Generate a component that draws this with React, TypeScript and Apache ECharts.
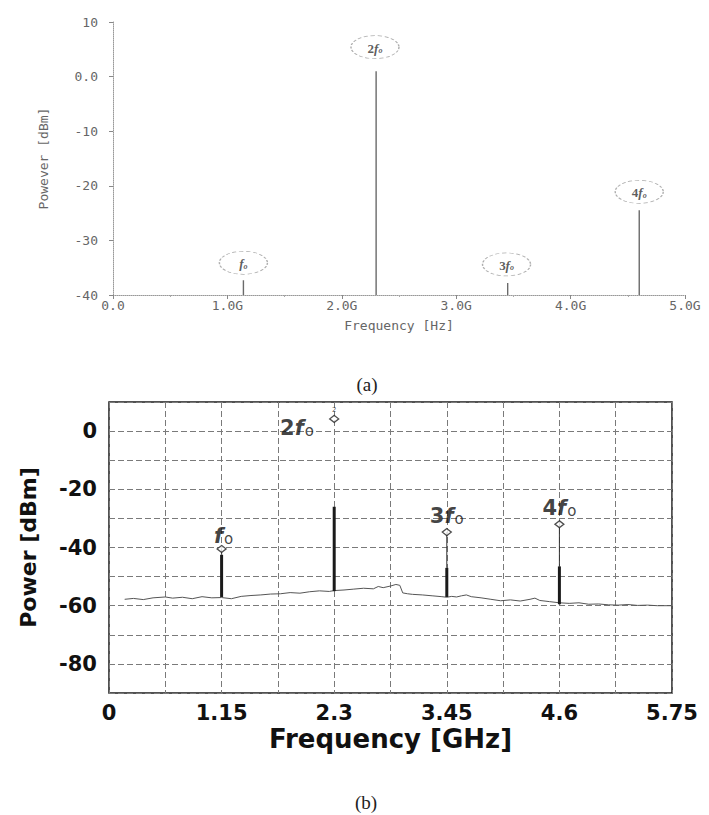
import React, { useEffect, useRef } from "react";
import * as echarts from "echarts";

// ---------- (a) simulated spectrum ----------
const topXTicks = [0, 1, 2, 3, 4, 5]; // GHz
const topYTicks = [-40, -30, -20, -10, 0, 10]; // dBm
const topSpikeFreq = [1.14, 2.3, 3.45, 4.6];
const topSpikePower = [-37.3, 1.0, -37.8, -24.5];
const topFloor = -40;
const topTagFreq = [1.14, 2.29, 3.44, 4.6];
const topTagPower = [-34.1, 5.4, -34.4, -21.1];
const harmonicOrder = ["", "2", "3", "4"];

// ---------- (b) measured spectrum ----------
const botXLabels = ["0", "1.15", "2.3", "3.45", "4.6", "5.75"];
const noiseFreq = [
  0.16, 0.25, 0.35, 0.45, 0.575, 0.65, 0.75, 0.85, 0.95, 1.05, 1.15, 1.25, 1.35,
  1.45, 1.55, 1.65, 1.75, 1.85, 1.95, 2.05, 2.15, 2.25, 2.3, 2.4, 2.5, 2.6, 2.7,
  2.75, 2.8, 2.88, 2.93, 2.97, 3.0, 3.05, 3.1, 3.2, 3.3, 3.4, 3.45, 3.5, 3.55,
  3.6, 3.65, 3.7, 3.8, 3.9, 4.0, 4.1, 4.2, 4.3, 4.35, 4.4, 4.5, 4.6, 4.7, 4.8,
  4.9, 5.0, 5.1, 5.2, 5.3, 5.4, 5.5, 5.6, 5.75,
];
const noisePower = [
  -57.8, -57.5, -57.9, -57.3, -57.0, -57.4, -57.1, -57.6, -56.9, -57.3, -57.2,
  -57.6, -56.8, -56.5, -56.3, -56.0, -55.9, -55.5, -55.7, -55.2, -54.9, -55.1,
  -54.8, -54.6, -54.3, -54.0, -54.2, -53.4, -53.8, -53.2, -52.7, -53.0, -55.6,
  -55.9, -56.1, -56.3, -56.6, -56.9, -57.1, -56.8, -57.0, -56.6, -56.3, -56.9,
  -57.3, -57.8, -58.3, -58.0, -58.4, -57.8, -57.4, -58.2, -58.6, -59.0, -59.2,
  -59.0, -59.5, -59.4, -59.7, -59.8, -59.6, -59.9, -59.8, -60.0, -60.0,
];
const spikeFreq = [1.15, 2.3, 3.45, 4.6];
const spikeBase = [-57.0, -55.0, -57.0, -59.5];
const spikeTop = [-42.5, -26.0, -47.0, -46.5];
const markerPower = [-40.5, 4.2, -34.7, -32.0];
const tagFreq = [1.17, 1.92, 3.45, 4.6];
const tagPower = [-35.7, 1.4, -28.8, -26.1];

const MONO = "DejaVu Sans Mono";
const SANS = "DejaVu Sans";
const SERIF = "Liberation Serif";

export default function App() {
  const ref = useRef<HTMLDivElement>(null);

  useEffect(() => {
    if (!ref.current) return;
    const chart = echarts.init(ref.current, undefined, { renderer: "svg" });

    const lineRender = (color: string, width: number) => (params: any, api: any) => {
      const x = api.value(0);
      const p1 = api.coord([x, api.value(1)]);
      const p2 = api.coord([x, api.value(2)]);
      return {
        type: "line",
        shape: { x1: p1[0], y1: p1[1], x2: p2[0], y2: p2[1] },
        style: { stroke: color, lineWidth: width },
      };
    };

    const option: any = {
      animation: false,
      backgroundColor: "#ffffff",
      grid: [
        { left: 113, top: 22, width: 572, height: 273, show: false },
        {
          left: 109,
          top: 402,
          width: 563,
          height: 291,
          show: true,
          borderColor: "#1a1a1a",
          borderWidth: 1.5,
          backgroundColor: "transparent",
        },
      ],
      xAxis: [
        {
          type: "value",
          gridIndex: 0,
          min: topXTicks[0],
          max: topXTicks[topXTicks.length - 1],
          interval: 1,
          name: "Frequency [Hz]",
          nameLocation: "middle",
          nameGap: 24,
          nameTextStyle: { fontFamily: MONO, fontSize: 13, color: "#666" },
          axisLine: { show: true, onZero: false, lineStyle: { color: "#999", width: 1, type: "dotted" } },
          axisTick: { show: true, length: 4, lineStyle: { color: "#888" } },
          minorTick: { show: true, splitNumber: 2, length: 2, lineStyle: { color: "#aaa" } },
          splitLine: { show: false },
          axisLabel: {
            margin: 4,
            fontFamily: MONO,
            fontSize: 13,
            color: "#666",
            formatter: (v: number) => (v === 0 ? "0.0" : v.toFixed(1) + "G"),
          },
        },
        {
          type: "value",
          gridIndex: 1,
          min: 0,
          max: 5.75,
          interval: 0.575,
          name: "Frequency [GHz]",
          nameLocation: "middle",
          nameGap: 33,
          nameTextStyle: { fontFamily: SANS, fontWeight: "bold", fontSize: 26, color: "#111" },
          axisLine: { show: false, onZero: false },
          axisTick: { show: false },
          splitLine: { show: true, lineStyle: { color: "#7a7a7a", width: 1, type: [6, 3] } },
          axisLabel: {
            margin: 9,
            fontFamily: SANS,
            fontWeight: "bold",
            fontSize: 21,
            color: "#111",
            showMaxLabel: true,
            formatter: (v: number) => {
              const idx = Math.round(v / 0.575);
              return idx % 2 === 0 ? botXLabels[idx / 2] : "";
            },
          },
        },
      ],
      yAxis: [
        {
          type: "value",
          gridIndex: 0,
          min: topYTicks[0],
          max: topYTicks[topYTicks.length - 1],
          interval: 10,
          name: "Powever [dBm]",
          nameLocation: "middle",
          nameGap: 63,
          nameTextStyle: { fontFamily: MONO, fontSize: 13, color: "#666" },
          axisLine: { show: true, onZero: false, lineStyle: { color: "#999", width: 1, type: "dotted" } },
          axisTick: { show: true, length: 4, lineStyle: { color: "#888" } },
          splitLine: { show: false },
          axisLabel: {
            margin: 15,
            fontFamily: MONO,
            fontSize: 13,
            color: "#666",
            formatter: (v: number) => (v === 0 ? "0.0" : String(v)),
          },
        },
        {
          type: "value",
          gridIndex: 1,
          min: -90,
          max: 10,
          interval: 10,
          name: "Power [dBm]",
          nameLocation: "middle",
          nameGap: 70,
          nameTextStyle: { fontFamily: SANS, fontWeight: "bold", fontSize: 22, color: "#111" },
          axisLine: { show: false, onZero: false },
          axisTick: { show: false },
          splitLine: { show: true, lineStyle: { color: "#7a7a7a", width: 1, type: [6, 3] } },
          axisLabel: {
            margin: 12,
            fontFamily: SANS,
            fontWeight: "bold",
            fontSize: 21,
            color: "#111",
            formatter: (v: number) => (v % 20 === 0 ? String(v) : ""),
          },
        },
      ],
      graphic: [
        {
          type: "text",
          x: 367,
          y: 384,
          style: { text: "(a)", fontFamily: SERIF, fontSize: 19, fill: "#222", align: "center", verticalAlign: "middle" },
        },
        {
          type: "text",
          x: 366,
          y: 802,
          style: { text: "(b)", fontFamily: SERIF, fontSize: 19, fill: "#222", align: "center", verticalAlign: "middle" },
        },
      ],
      series: [
        // (a) spikes
        {
          type: "custom",
          xAxisIndex: 0,
          yAxisIndex: 0,
          renderItem: lineRender("#6a6a6a", 1.4),
          encode: { x: 0, y: [1, 2] },
          data: topSpikeFreq.map((f, i) => [f, topFloor, topSpikePower[i]]),
          z: 3,
        },
        // (a) dashed-ellipse tags
        {
          type: "scatter",
          xAxisIndex: 0,
          yAxisIndex: 0,
          symbol: "circle",
          symbolSize: [48, 23],
          itemStyle: { color: "rgba(0,0,0,0)", borderColor: "#9a9a9a", borderWidth: 1, borderType: [3, 2] },
          label: {
            show: true,
            position: "inside",
            offset: [0, -2],
            formatter: (p: any) => `{n|${harmonicOrder[p.dataIndex]}}{f|f}{s|o}`,
            rich: {
              n: { fontFamily: SERIF, fontWeight: "bold", fontSize: 13, color: "#333", lineHeight: 19, verticalAlign: "bottom" },
              f: { fontFamily: SERIF, fontWeight: "bold", fontStyle: "italic", fontSize: 13, color: "#333", lineHeight: 19, verticalAlign: "bottom" },
              s: { fontFamily: SERIF, fontWeight: "bold", fontStyle: "italic", fontSize: 8, color: "#333", lineHeight: 8, verticalAlign: "bottom" },
            },
          },
          data: topTagFreq.map((f, i) => [f, topTagPower[i]]),
          z: 4,
        },
        // (b) noise floor
        {
          type: "line",
          xAxisIndex: 1,
          yAxisIndex: 1,
          symbol: "none",
          lineStyle: { color: "#555", width: 1 },
          data: noiseFreq.map((f, i) => [f, noisePower[i]]),
          z: 3,
        },
        // (b) connectors between spike and marker
        {
          type: "custom",
          xAxisIndex: 1,
          yAxisIndex: 1,
          renderItem: lineRender("#333", 1),
          encode: { x: 0, y: [1, 2] },
          data: spikeFreq
            .map((f, i) => [f, spikeTop[i], markerPower[i]])
            .filter((_, i) => i !== 1),
          z: 4,
        },
        // (b) spikes
        {
          type: "custom",
          xAxisIndex: 1,
          yAxisIndex: 1,
          renderItem: lineRender("#1a1a1a", 3),
          encode: { x: 0, y: [1, 2] },
          data: spikeFreq.map((f, i) => [f, spikeBase[i], spikeTop[i]]),
          z: 5,
        },
        // (b) markers
        {
          type: "scatter",
          xAxisIndex: 1,
          yAxisIndex: 1,
          symbol: "diamond",
          symbolSize: [9, 7],
          itemStyle: { color: "#ffffff", borderColor: "#222", borderWidth: 1.3 },
          data: spikeFreq.map((f, i) =>
            i === 1
              ? {
                  value: [f, markerPower[i]],
                  label: { show: true, position: "top", distance: 1, formatter: "2", fontSize: 7, color: "#333", fontFamily: SANS },
                }
              : [f, markerPower[i]]
          ),
          z: 6,
        },
        // (b) harmonic labels
        {
          type: "scatter",
          xAxisIndex: 1,
          yAxisIndex: 1,
          symbolSize: 1,
          itemStyle: { color: "rgba(0,0,0,0)" },
          label: {
            show: true,
            position: "inside",
            offset: [0, -7],
            formatter: (p: any) => `{n|${harmonicOrder[p.dataIndex]}}{f|f}{s|o}`,
            rich: {
              n: { fontFamily: SANS, fontWeight: "bold", fontSize: 21, color: "#111", lineHeight: 37, verticalAlign: "bottom" },
              f: { fontFamily: SANS, fontWeight: "bold", fontStyle: "italic", fontSize: 21, color: "#111", lineHeight: 37, verticalAlign: "bottom" },
              s: { fontFamily: SANS, fontSize: 15, color: "#111", lineHeight: 15, verticalAlign: "bottom", padding: [0, 0, 0, 1] },
            },
          },
          data: tagFreq.map((f, i) => [f, tagPower[i]]),
          z: 7,
        },
      ],
    };

    chart.setOption(option);
    return () => chart.dispose();
  }, []);

  return (
    <div
      ref={ref}
      style={{ position: "fixed", left: 0, top: 0, width: 709, height: 815, background: "#fff" }}
    />
  );
}
